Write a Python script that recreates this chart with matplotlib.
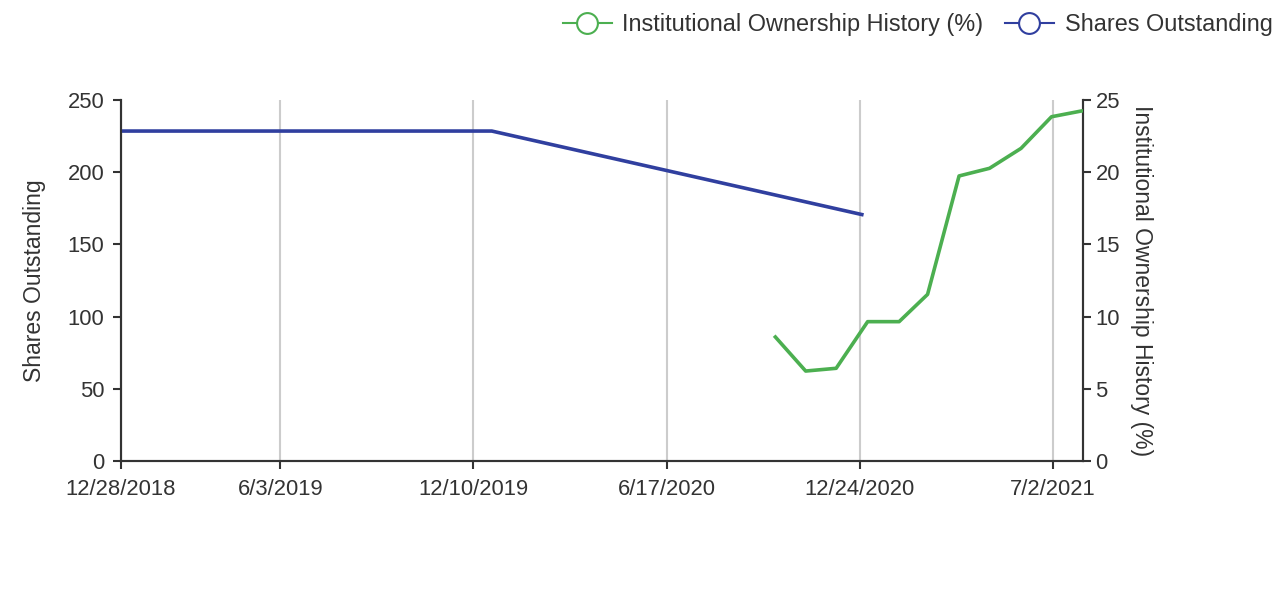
import matplotlib
matplotlib.use("Agg")
import matplotlib.pyplot as plt
from matplotlib.lines import Line2D
import pandas as pd

plt.rcParams['font.family'] = ['Liberation Sans', 'DejaVu Sans']

shares_dates = ["2018-12-28", "2019-12-28", "2020-12-28"]
shares_values = [228.5, 228.5, 170.4]

inst_dates = ["2020-10-01", "2020-11-01", "2020-12-01", "2021-01-01", "2021-02-01",
              "2021-03-01", "2021-04-01", "2021-05-01", "2021-06-01", "2021-07-01", "2021-08-01"]
inst_values = [8.68, 6.23, 6.42, 9.65, 9.65, 11.54, 19.74, 20.27, 21.65, 23.84, 24.26]

tick_dates = ["2018-12-28", "2019-06-03", "2019-12-10", "2020-06-17", "2020-12-24", "2021-07-02"]
tick_labels = ["12/28/2018", "6/3/2019", "12/10/2019", "6/17/2020", "12/24/2020", "7/2/2021"]

left_ticks = [0, 50, 100, 150, 200, 250]
right_ticks = [0, 5, 10, 15, 20, 25]

GREEN = "#4CAF50"
BLUE = "#303F9F"
DARK = "#333333"

fig = plt.figure(figsize=(12.82, 6.0), dpi=100)
ax = fig.add_axes([121/1282, 1-461/600, (1083-121)/1282, (461-100)/600])
ax2 = ax.twinx()

sd = pd.to_datetime(shares_dates)
idt = pd.to_datetime(inst_dates)
td = pd.to_datetime(tick_dates)

for t in td:
    ax.axvline(t, color="#cccccc", lw=1.5, zorder=0)

ax.plot(sd, shares_values, color=BLUE, lw=2.6, solid_capstyle='butt', zorder=3)
ax2.plot(idt, inst_values, color=GREEN, lw=2.6, solid_capstyle='butt', zorder=3)

ax.set_xlim(pd.Timestamp("2018-12-28"), pd.Timestamp("2021-08-01"))
ax.set_ylim(0, 250)
ax2.set_ylim(0, 25)

ax.set_xticks(td)
ax.set_xticklabels(tick_labels)
ax.set_yticks(left_ticks)
ax2.set_yticks(right_ticks)

for a in (ax, ax2):
    a.spines['top'].set_visible(False)
    for s in ('left', 'right', 'bottom'):
        a.spines[s].set_color(DARK)
        a.spines[s].set_linewidth(1.5)
    a.tick_params(axis='both', colors=DARK, labelcolor=DARK, labelsize=15.8,
                  length=6, width=1.5, direction='out')
ax.tick_params(axis='x', pad=7)
ax.tick_params(axis='y', pad=6)
ax2.tick_params(axis='y', pad=3)

ax.set_ylabel("Shares Outstanding", fontsize=16.5, color=DARK)
ax.yaxis.set_label_coords((46-121)/962, 0.5)
ax2.set_ylabel("Institutional Ownership History (%)", fontsize=16.5, color=DARK,
               rotation=270, va='center', ha='center')
ax2.yaxis.set_label_coords((1142-121)/962, 0.5)

handles = [
    Line2D([0], [0], color=GREEN, lw=1.5, marker='o', markersize=15,
           markerfacecolor='white', markeredgecolor=GREEN, markeredgewidth=1.5),
    Line2D([0], [0], color=BLUE, lw=1.5, marker='o', markersize=15,
           markerfacecolor='white', markeredgecolor=BLUE, markeredgewidth=1.5),
]
fig.legend(handles, ["Institutional Ownership History (%)", "Shares Outstanding"],
           loc='upper right', bbox_to_anchor=(1.009, 1.013), ncol=2, frameon=False,
           fontsize=16.9, handlelength=2.1, handletextpad=0.45, columnspacing=0.9,
           labelcolor=DARK)

fig.savefig("out.png", dpi=100)
